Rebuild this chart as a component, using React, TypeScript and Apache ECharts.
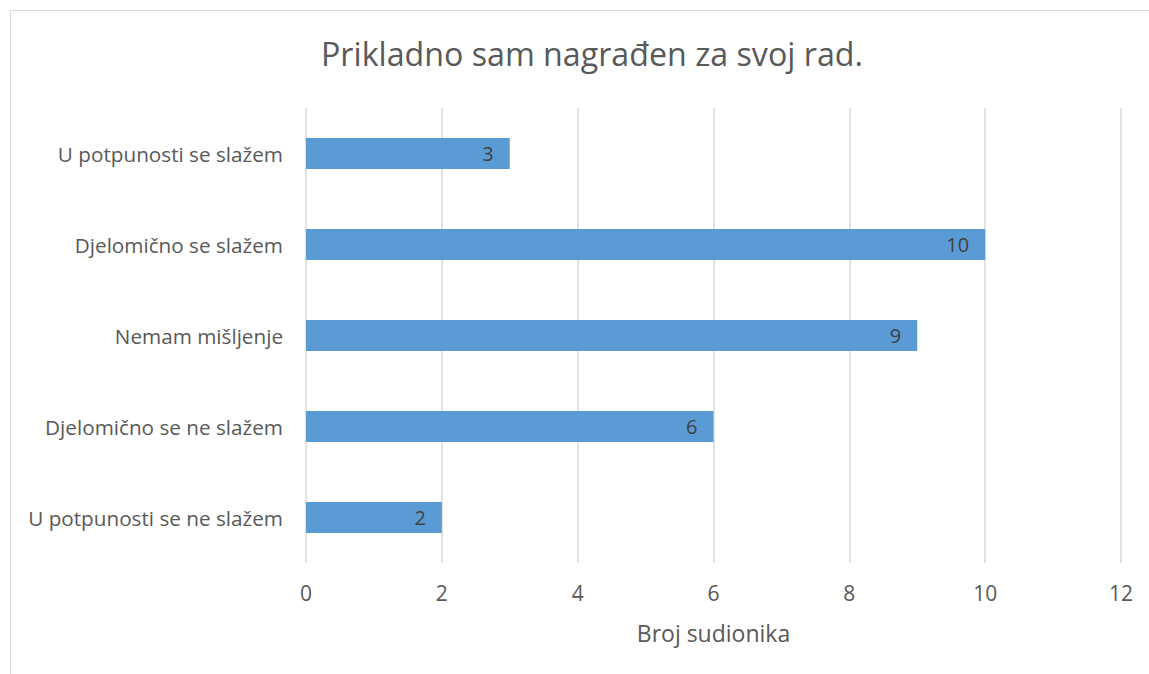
import React, { useEffect, useRef } from "react";
import * as echarts from "echarts";

const categories = [
  "U potpunosti se slažem",
  "Djelomično se slažem",
  "Nemam mišljenje",
  "Djelomično se ne slažem",
  "U potpunosti se ne slažem",
];
const values = [3, 10, 9, 6, 2];
const titleText = "Prikladno sam nagrađen za svoj rad.";
const axisName = "Broj sudionika";

const FONT = "'Open Sans', sans-serif";

export default function App() {
  const ref = useRef<HTMLDivElement>(null);
  useEffect(() => {
    if (!ref.current) return;
    const chart = echarts.init(ref.current, null, { renderer: "svg" });
    chart.setOption({
      animation: false,
      backgroundColor: "#ffffff",
      title: {
        text: titleText,
        left: 316,
        top: 32,
        textStyle: { fontFamily: FONT, fontSize: 32.2, fontWeight: "normal", color: "#595959" },
      },
      graphic: [
        {
          type: "rect",
          shape: { x: 10.5, y: 10.5, width: 1200, height: 700 },
          style: { fill: "none", stroke: "#d9d9d9", lineWidth: 1 },
          silent: true,
        },
      ],
      grid: { left: 306, right: 28, top: 108, bottom: 111 },
      xAxis: {
        type: "value",
        min: 0,
        max: 12,
        interval: 2,
        name: axisName,
        nameLocation: "middle",
        nameGap: 58,
        nameTextStyle: { fontFamily: FONT, fontSize: 23, color: "#595959" },
        axisLine: { show: false },
        axisTick: { show: false },
        axisLabel: { fontFamily: FONT, fontSize: 21, color: "#595959", margin: 19 },
        splitLine: { show: true, lineStyle: { color: "#d9d9d9", width: 1.5 } },
      },
      yAxis: {
        type: "category",
        data: categories,
        inverse: true,
        axisLine: { show: false },
        axisTick: { show: false },
        axisLabel: { fontFamily: FONT, fontSize: 20.7, color: "#595959", margin: 23 },
      },
      series: [
        {
          type: "bar",
          data: values,
          barWidth: 31,
          itemStyle: { color: "#5b9bd5" },
          label: {
            show: true,
            position: "insideRight",
            distance: 16,
            fontFamily: FONT,
            fontSize: 20,
            color: "#404040",
          },
        },
      ],
    });
    return () => chart.dispose();
  }, []);
  return (
    <div
      ref={ref}
      style={{ position: "absolute", left: 0, top: 0, width: 1149, height: 674 }}
    />
  );
}
